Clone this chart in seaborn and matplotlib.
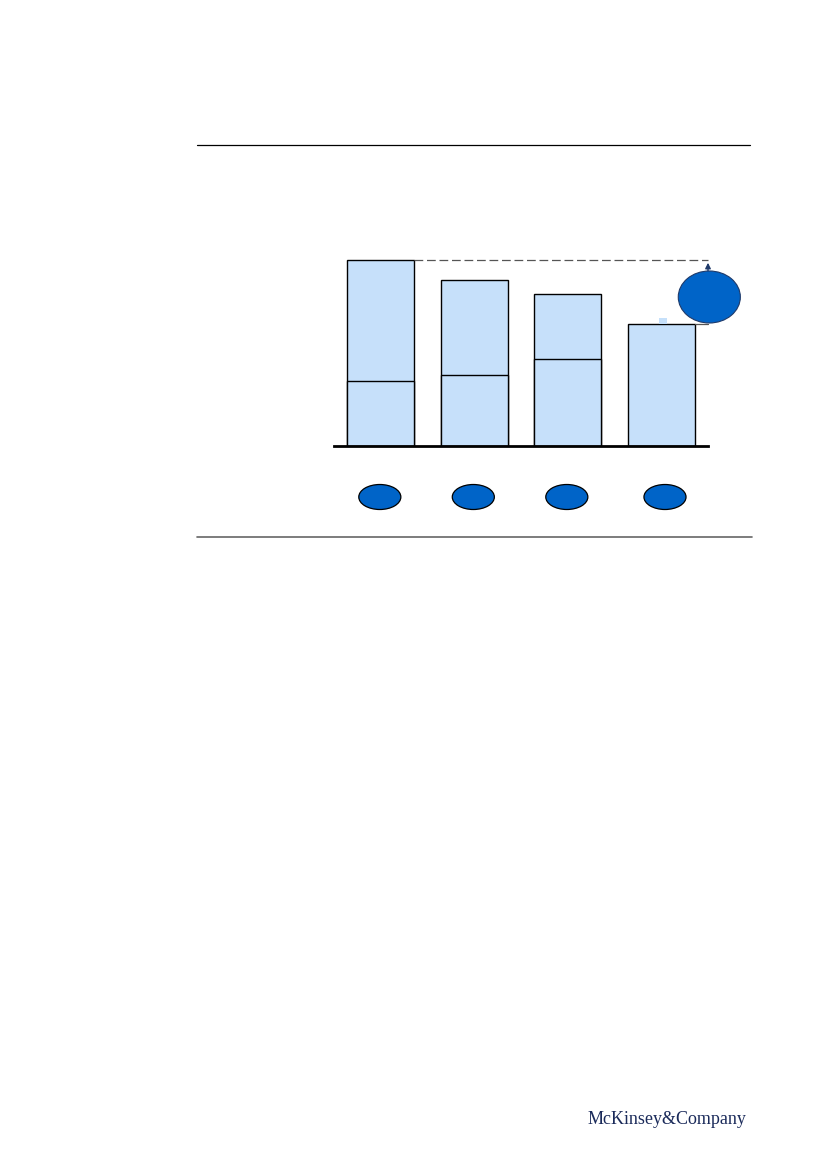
import matplotlib
matplotlib.use("Agg")
import matplotlib.pyplot as plt
from matplotlib.patches import Ellipse, Rectangle
from matplotlib.lines import Line2D
import pandas as pd
import seaborn as sns

# values (arbitrary units, no axis labels shown)
categories = ["A", "B", "C", "D"]
bottom_vals = [65, 71, 87, 122]
top_vals = [121, 95, 65, 0]

BAR_FILL = "#c6e0fa"
DARK_BLUE = "#0064c8"

sns.set_theme(style="white")
plt.rcParams["font.family"] = ["Liberation Serif", "DejaVu Serif"]

df = pd.DataFrame({"cat": categories, "bottom": bottom_vals, "top": top_vals})
df["total"] = df["bottom"] + df["top"]

fig = plt.figure(figsize=(8.26, 11.69), dpi=100)
ax = fig.add_axes([334 / 826, (1169 - 446) / 1169, 374 / 826, 200 / 1169])

# total bars first, then bottom segments drawn over them
sns.barplot(data=df, x="cat", y="total", color=BAR_FILL, saturation=1,
            width=0.72, edgecolor="black", linewidth=1.0, ax=ax)
sns.barplot(data=df, x="cat", y="bottom", color=BAR_FILL, saturation=1,
            width=0.72, edgecolor="black", linewidth=1.0, ax=ax)
# last bar is a single block: no inner split
ax.patches[-1].set_visible(False)

ax.set_xlim(-0.5, 3.5)
ax.set_ylim(0, 200)
ax.set_xlabel("")
ax.set_ylabel("")
ax.set_xticks([])
ax.set_yticks([])
for side in ["top", "right", "left"]:
    ax.spines[side].set_visible(False)
ax.spines["bottom"].set_color("black")
ax.spines["bottom"].set_linewidth(2)

# reference line from the first bar's top to the gap marker
first_total = df["total"].iloc[0]
last_total = df["total"].iloc[-1]
ax.plot([0.36, 3.5], [first_total, first_total], color="#555555",
        linestyle=(0, (7, 3)), linewidth=0.9, clip_on=False)
ax.plot([3.36, 3.5], [last_total, last_total], color="#555555",
        linewidth=0.9, clip_on=False)
ax.annotate("", xy=(3.5, first_total), xytext=(3.5, last_total),
            arrowprops=dict(arrowstyle="-|>", color="#1f3a6a", lw=1.0,
                            mutation_scale=8), annotation_clip=False)
ax.add_patch(Ellipse((3.514, 149), 0.664, 52, facecolor=DARK_BLUE,
                     edgecolor="#1f3a6a", linewidth=0.8, clip_on=False,
                     zorder=5))
ax.add_patch(Rectangle((2.98, last_total), 0.086, 6, facecolor=BAR_FILL,
                       edgecolor="none", clip_on=False, zorder=5))

# markers under each bar
for i in range(len(categories)):
    ax.add_patch(Ellipse((i - 0.01 if i < 3 else i + 0.04, -51), 0.45, 25,
                         facecolor=DARK_BLUE, edgecolor="black",
                         linewidth=0.9, clip_on=False))

# page rules
fig.add_artist(Line2D([197 / 826, 750 / 826], [1 - 145 / 1169, 1 - 145 / 1169],
                      color="black", linewidth=0.9))
fig.add_artist(Line2D([197 / 826, 752 / 826], [1 - 537 / 1169, 1 - 537 / 1169],
                      color="#666666", linewidth=1.2))

fig.text(746 / 826, 1 - 1119 / 1169, "McKinsey&Company", ha="right",
         va="center", fontsize=13, color="#1a2a5a")

fig.savefig("out.png", dpi=100)
